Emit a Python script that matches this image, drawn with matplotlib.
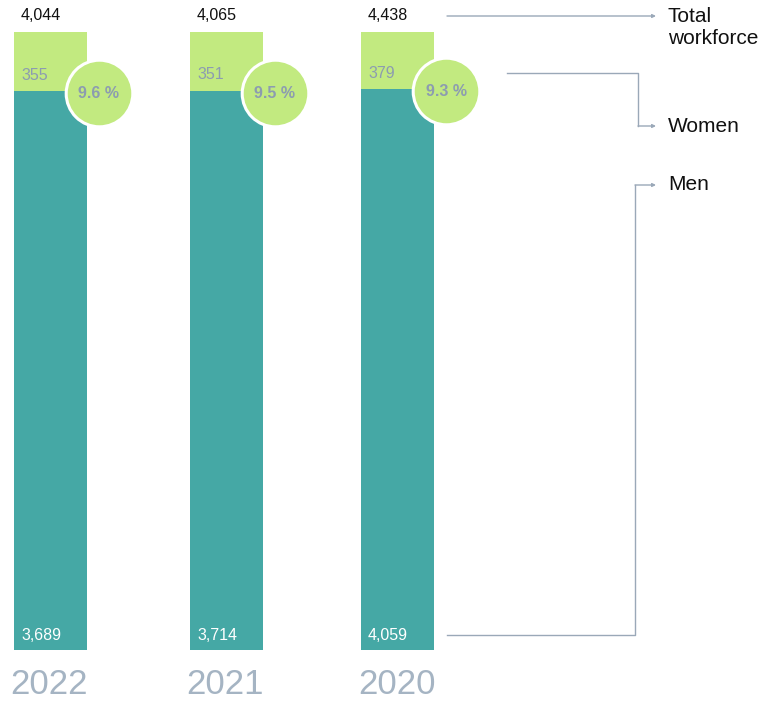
import matplotlib.pyplot as plt

plt.rcParams['font.family'] = ['Liberation Sans', 'DejaVu Sans']

years = ['2022', '2021', '2020']
total = ['4,044', '4,065', '4,438']
women = ['355', '351', '379']
men = ['3,689', '3,714', '4,059']
women_pct = [9.6, 9.5, 9.3]

TEAL = '#45a8a5'
GREEN = '#c2ea80'
SLATE = '#8c9cb0'
LINE = '#9aa8b8'

W, H = 772, 701
fig = plt.figure(figsize=(W / 100, H / 100), dpi=100)

# bar axes: x in pixels, y in percent of headcount
ax = fig.add_axes([0, 51 / H, 1, 618 / H])
ax.set_xlim(0, W)
ax.set_ylim(0, 100)
ax.axis('off')

xc = [50.5, 226.5, 397.5]
bw = 73
men_share = [100 - p for p in women_pct]
ax.bar(xc, men_share, width=bw, color=TEAL, zorder=1)
ax.bar(xc, women_pct, bottom=men_share, width=bw, color=GREEN, zorder=1)

for x, yr, t, w, m, p, ms in zip(xc, years, total, women, men, women_pct, men_share):
    left = x - bw / 2 + 7
    ax.text(left, 102.6, t, ha='left', va='center', fontsize=11.5, color='#111111', clip_on=False)
    ax.text(left, ms + 2.6, w, ha='left', va='center', fontsize=11.5, color=SLATE)
    ax.text(left, 2.4, m, ha='left', va='center', fontsize=11.5, color='white')
    cx = x + bw / 2 + 12
    cy = ms - 0.3
    ax.scatter([cx], [cy], s=2300, color=GREEN, edgecolor='white', linewidth=2.2, zorder=3, clip_on=False)
    ax.text(cx, cy - 0.1, f'{p} %', ha='center', va='center', fontsize=11.5, fontweight='bold',
            color=SLATE, zorder=4)
    ax.text(x - 1, -5.6, yr, ha='center', va='center', fontsize=25, color='#a5b4c3',
            clip_on=False)

# leader lines to the legend labels, in pixel coordinates
ov = fig.add_axes([0, 0, 1, 1], facecolor='none')
ov.set_xlim(0, W)
ov.set_ylim(H, 0)
ov.axis('off')

arrow = dict(arrowstyle='-|>', color=LINE, lw=1, mutation_scale=5, shrinkA=0, shrinkB=0)
ov.annotate('', xy=(656, 16), xytext=(447, 16), arrowprops=arrow)
ov.plot([507, 638, 638], [73, 73, 126], color=LINE, lw=1)
ov.annotate('', xy=(656, 126), xytext=(638, 126), arrowprops=arrow)
ov.plot([447, 635, 635], [635, 635, 185], color=LINE, lw=1)
ov.annotate('', xy=(656, 185), xytext=(635, 185), arrowprops=arrow)

ov.text(668, 28, 'Total\nworkforce', ha='left', va='center', fontsize=15, color='#111111',
        linespacing=1.2)
ov.text(668, 127, 'Women', ha='left', va='center', fontsize=15, color='#111111')
ov.text(668, 185, 'Men', ha='left', va='center', fontsize=15, color='#111111')

fig.savefig('out.png', dpi=100, facecolor='white')
